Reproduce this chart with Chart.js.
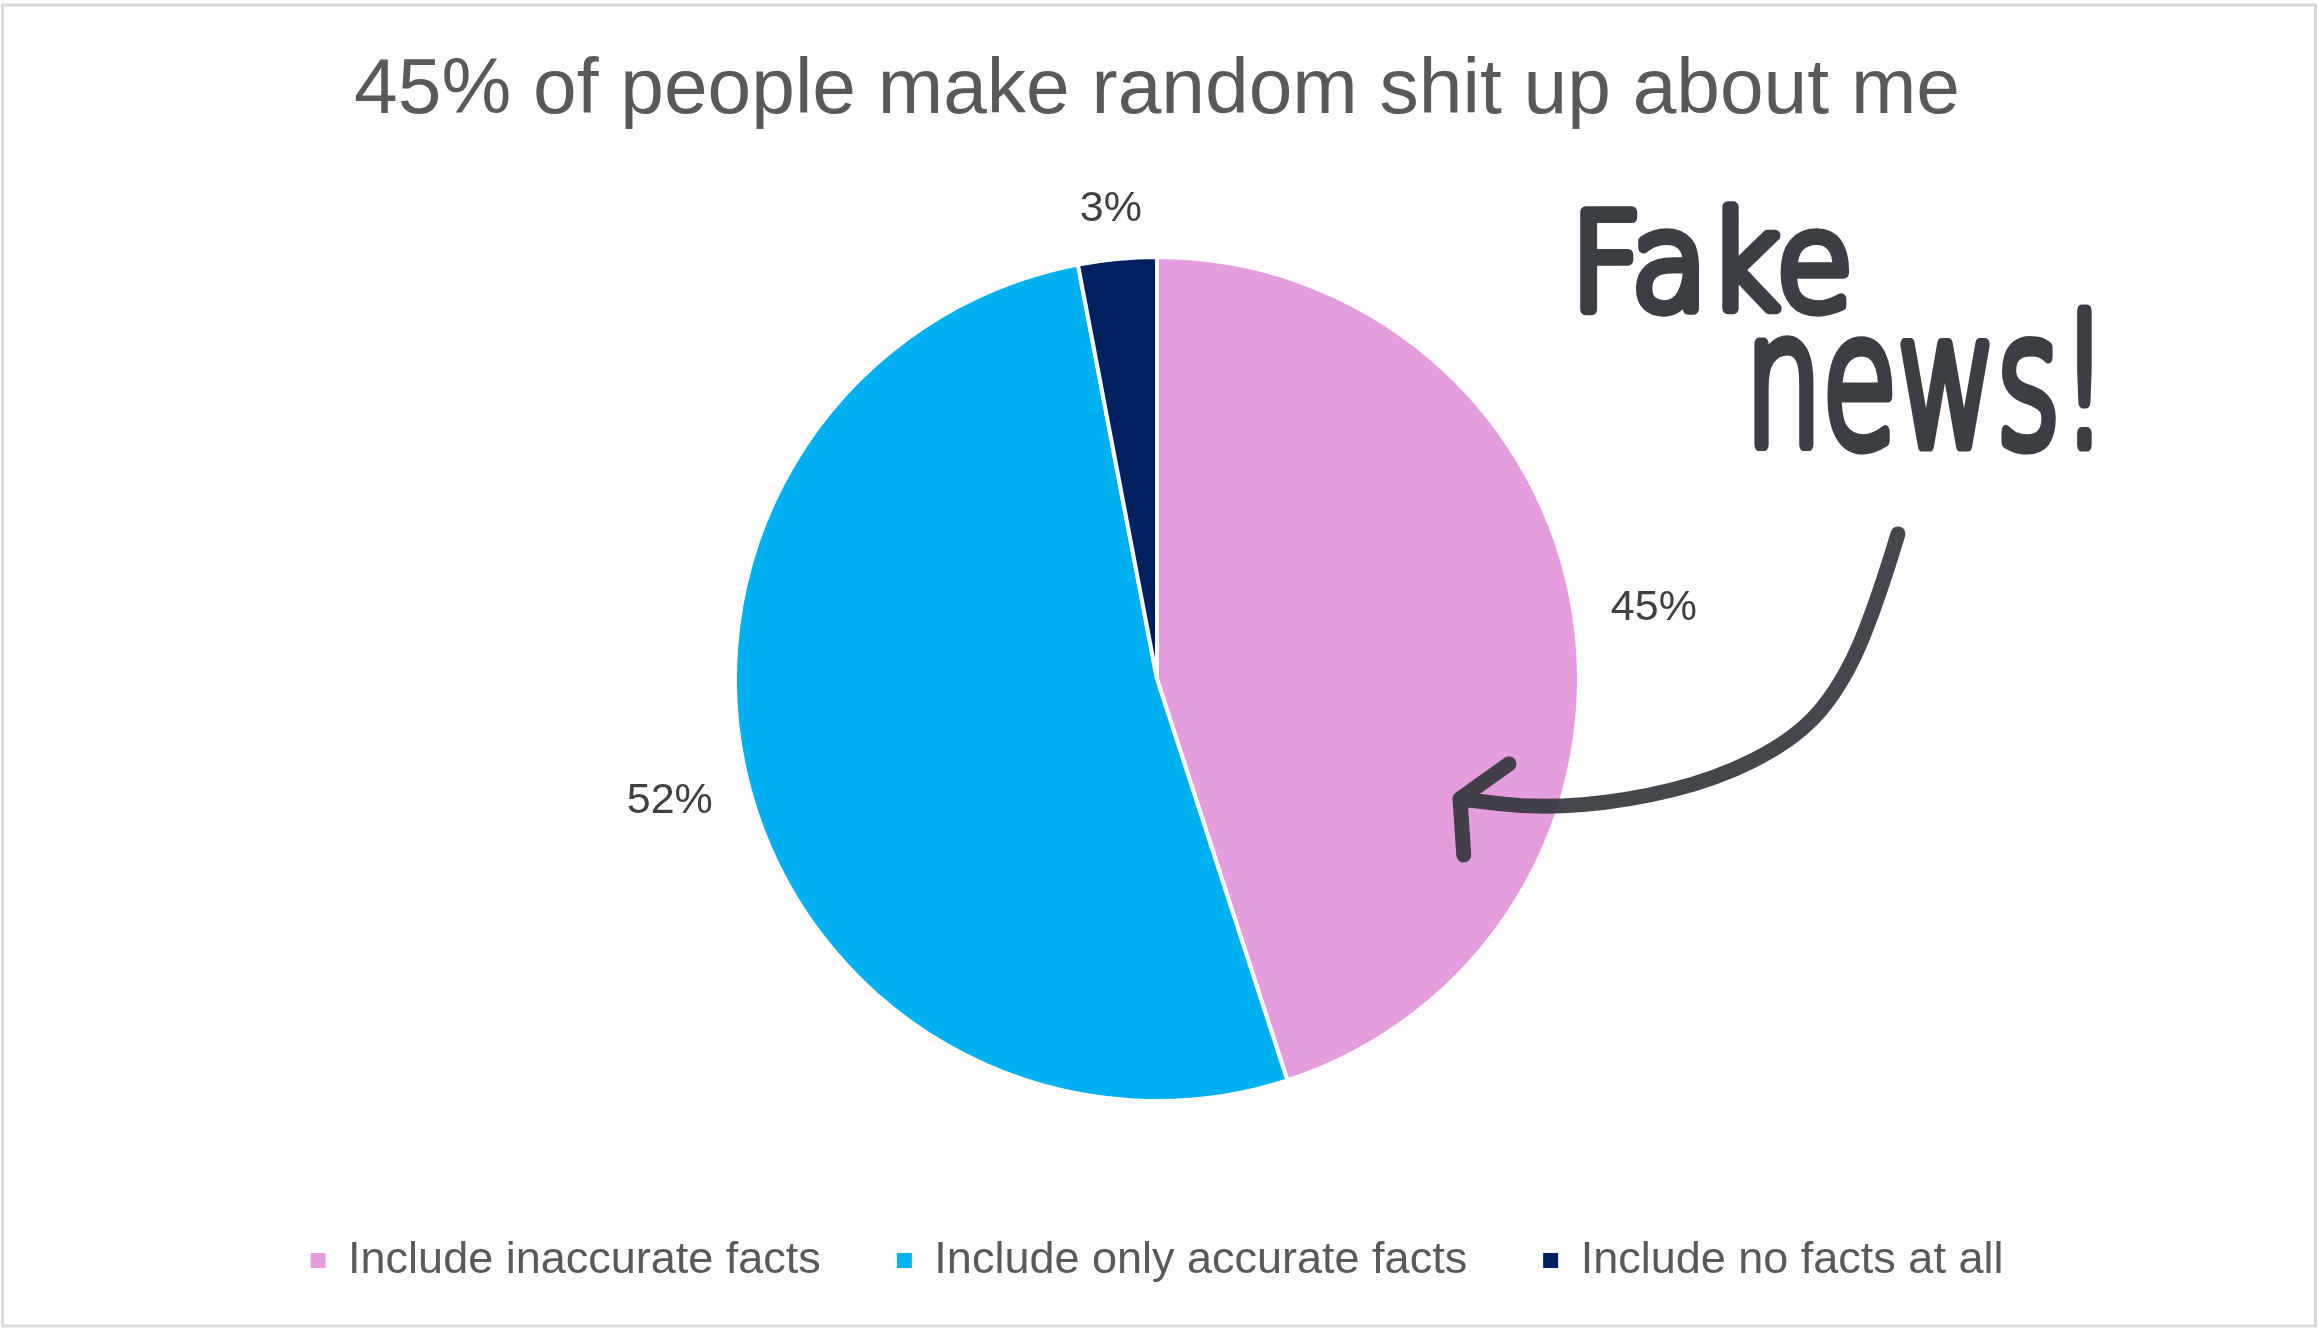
<!DOCTYPE html>
<html>
<head>
<meta charset="utf-8">
<script src="https://cdn.jsdelivr.net/npm/chart.js@4.4.1/dist/chart.umd.min.js"></script>
<style>
    html, body { margin: 0; padding: 0; background: #fff; }
    #wrap { width: 2319px; height: 1333px; position: relative; }
</style>
</head>
<body>
<div id="wrap"><canvas id="pieChart"></canvas></div>
<script>
const chartTitle = "45% of people make random shit up about me";
const categories = ["Include inaccurate facts", "Include only accurate facts", "Include no facts at all"];
const shares = [45, 52, 3];
const sliceColors = ["#e49edd", "#00b0f0", "#002060"];
const noteWords = ["Fake", "news!"];

const FONT = "'Liberation Sans', Arial, Helvetica, sans-serif";

// light grey frame round the whole picture, like the exported chart
const frame = {
    id: "frame",
    beforeDraw(chart) {
        const { ctx, width, height } = chart;
        ctx.save();
        ctx.fillStyle = "#fff";
        ctx.fillRect(0, 0, width, height);
        ctx.strokeStyle = "#d9d9d9";
        ctx.lineWidth = 3;
        ctx.strokeRect(2.5, 5, width - 6, height - 12);
        ctx.restore();
    }
};

// percentage labels just outside each slice
const sliceLabels = {
    id: "sliceLabels",
    afterDatasetsDraw(chart) {
        const ctx = chart.ctx;
        const meta = chart.getDatasetMeta(0);
        ctx.save();
        ctx.font = `43px ${FONT}`;
        ctx.fillStyle = "#404040";
        ctx.textAlign = "center";
        ctx.textBaseline = "alphabetic";
        meta.data.forEach((arc, i) => {
            const p = arc.getProps(["x", "y", "startAngle", "endAngle", "outerRadius"], true);
            const mid = (p.startAngle + p.endAngle) / 2;
            const text = `${shares[i]}%`;
            const w = ctx.measureText(text).width;
            const h = 31;
            const d = p.outerRadius + 38;
            const cx = p.x + Math.cos(mid) * (d + w / 2);
            const cy = p.y + Math.sin(mid) * (d + h / 2);
            ctx.fillText(text, cx, cy + h / 2);
        });
        ctx.restore();
    }
};

function drawFitted(ctx, text, a, b, lw) {
    ctx.save();
    ctx.font = `200 200px 'DejaVu Sans', sans-serif`;
    ctx.textAlign = "left";
    ctx.textBaseline = "alphabetic";
    const m = ctx.measureText(text);
    const iw = m.actualBoundingBoxLeft + m.actualBoundingBoxRight;
    const ih = m.actualBoundingBoxAscent + m.actualBoundingBoxDescent;
    const sx = (b[0] - a[0] - lw) / iw;
    const sy = (b[1] - a[1] - lw) / ih;
    ctx.translate(a[0] + lw / 2, a[1] + lw / 2);
    ctx.scale(sx, sy);
    ctx.lineWidth = lw / ((sx + sy) / 2);
    ctx.lineJoin = "round";
    ctx.lineCap = "round";
    ctx.fillText(text, m.actualBoundingBoxLeft, m.actualBoundingBoxAscent);
    ctx.strokeText(text, m.actualBoundingBoxLeft, m.actualBoundingBoxAscent);
    ctx.restore();
}

// the hand-drawn "Fake news!" note, placed relative to the pie
const fakeNews = {
    id: "fakeNews",
    afterDraw(chart) {
        const ctx = chart.ctx;
        const arc = chart.getDatasetMeta(0).data[0];
        const r = arc.outerRadius;
        const P = (u, v) => [arc.x + u * r, arc.y + v * r];

        ctx.save();
        ctx.fillStyle = "#3b3e43";
        ctx.strokeStyle = "#3b3e43";
        drawFitted(ctx, noteWords[0], P(1.002, -1.130), P(1.640, -0.860), 11);
        drawFitted(ctx, noteWords[1], P(1.412, -0.886), P(2.218, -0.536), 11);

        const curve = [
            P(1.756, -0.344), P(1.692, -0.133), P(1.604, 0.043), P(1.500, 0.149),
            P(1.325, 0.237), P(1.114, 0.289), P(0.903, 0.306), P(0.718, 0.284)
        ];
        ctx.strokeStyle = "rgba(52, 55, 60, 0.92)";
        ctx.lineWidth = 15;
        ctx.lineCap = "round";
        ctx.lineJoin = "round";
        ctx.beginPath();
        ctx.moveTo(curve[0][0], curve[0][1]);
        for (let i = 1; i < curve.length - 1; i++) {
            const mx = (curve[i][0] + curve[i + 1][0]) / 2;
            const my = (curve[i][1] + curve[i + 1][1]) / 2;
            ctx.quadraticCurveTo(curve[i][0], curve[i][1], mx, my);
        }
        const tip = curve[curve.length - 1];
        ctx.lineTo(tip[0], tip[1]);
        const up = P(0.834, 0.201);
        const down = P(0.727, 0.417);
        ctx.moveTo(up[0], up[1]);
        ctx.lineTo(tip[0], tip[1]);
        ctx.lineTo(down[0], down[1]);
        ctx.stroke();
        ctx.restore();
    }
};

const legendDefaults = Chart.overrides.doughnut.plugins.legend.labels.generateLabels;

new Chart(document.getElementById("pieChart"), {
    type: "pie",
    data: {
        labels: categories,
        datasets: [{
            data: shares,
            backgroundColor: sliceColors,
            borderColor: "#ffffff",
            borderWidth: 4,
            radius: 422
        }]
    },
    options: {
        responsive: true,
        maintainAspectRatio: false,
        animation: false,
        layout: {
            padding: { left: 0, right: 5, top: 0, bottom: 40 }
        },
        plugins: {
            title: {
                display: true,
                text: chartTitle,
                color: "#595959",
                font: { size: 78.5, family: FONT, weight: "normal", lineHeight: 1.2 },
                padding: { top: 44, bottom: 58 }
            },
            legend: {
                position: "bottom",
                labels: {
                    color: "#595959",
                    font: { size: 45, family: FONT },
                    boxWidth: 15,
                    boxHeight: 15,
                    padding: 76,
                    generateLabels(chart) {
                        const items = legendDefaults(chart);
                        items.forEach((item) => {
                            item.lineWidth = 0;
                            item.strokeStyle = item.fillStyle;
                        });
                        return items;
                    }
                }
            },
            tooltip: { enabled: false }
        }
    },
    plugins: [frame, sliceLabels, fakeNews]
});
</script>
</body>
</html>
